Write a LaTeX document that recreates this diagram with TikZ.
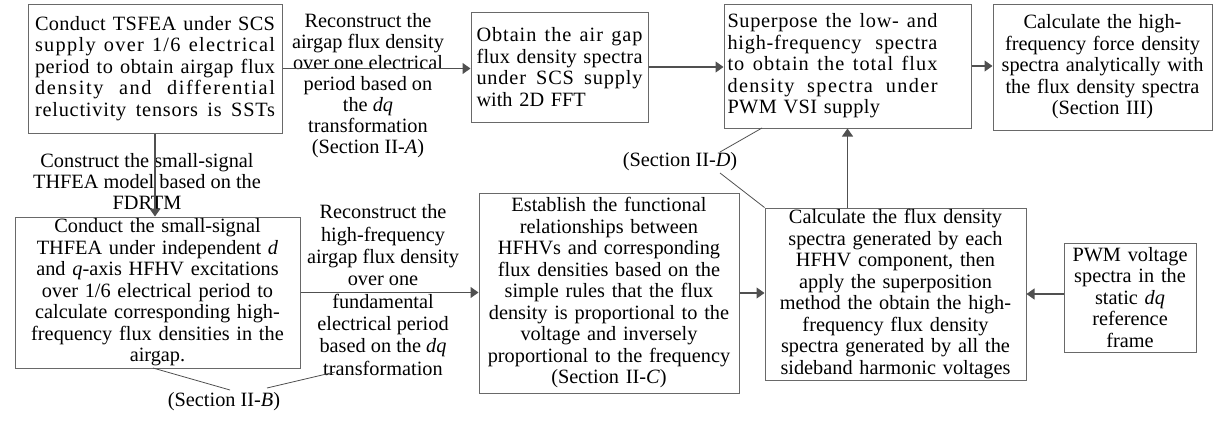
\documentclass[tikz,border=0pt]{standalone}
\usepackage{fontspec}
\setmainfont{Liberation Serif}
\usetikzlibrary{arrows.meta}
\definecolor{edge}{RGB}{105,105,105}
\definecolor{conn}{RGB}{80,80,80}
% justified line: optional width, letter spacing, text
\newcommand{\jl}[3][\hsize]{\leavevmode\hbox to #1{\addfontfeature{LetterSpace=#2}\spaceskip=0.25em plus 1fil\relax #3}}
\newcommand{\lline}[1]{\leavevmode\hbox to \hsize{#1\hfil}}
\begin{document}
\begin{tikzpicture}[x=1pt,y=-1pt,
  box/.style={draw=edge, line width=1pt, inner sep=0pt, align=center,
    font=\fontsize{20.3}{21.5}\selectfont},
  lab/.style={inner sep=0pt, align=center, font=\fontsize{20.3}{21}\selectfont},
  arr/.style={draw=conn, line width=1.1pt, -{Triangle[length=8pt,width=11pt]}},
  thin/.style={draw=conn, line width=0.8pt}]
\useasboundingbox (0,0) rectangle (1216,421);

\node[box, minimum width=254pt, minimum height=129pt, text width=240pt] (b1) at (155,68.5)
 {\jl{1.6}{Conduct TSFEA under SCS}\\\jl{6.5}{supply over 1/6 electrical}\\\jl{2.6}{period to obtain airgap flux}\\\jl{8.1}{density and differential}\\\jl{3.9}{reluctivity tensors is SSTs}};

\node[box, minimum width=177pt, minimum height=110pt, text width=166pt] (b2) at (559.5,67)
 {\jl{4.6}{Obtain the air gap}\\\jl{1.3}{flux density spectra}\\\jl{4.2}{under SCS supply}\\\lline{with 2D FFT}};

\node[box, align=left, minimum width=247pt, minimum height=124pt, text width=240pt] (b3) at (847.5,66)
 {\jl[210pt]{3.4}{Superpose the low- and}\\\jl[210pt]{3.8}{high-frequency spectra}\\\jl[210pt]{5.2}{to obtain the total flux}\\\jl[210pt]{6.8}{density spectra under}\\\lline{\addfontfeature{LetterSpace=2}PWM VSI supply}};

\node[box, minimum width=219pt, minimum height=126pt, text width=212pt] (b4) at (1102.5,67)
 {Calculate the high-\\frequency force density\\spectra analytically with\\the flux density spectra\\(Section III)};

\node[box, minimum width=285pt, minimum height=151pt, text width=280pt] (b5) at (157.5,292.5)
 {Conduct the small-signal\\THFEA under independent \textit{d}\\and \textit{q}-axis HFHV excitations\\over 1/6 electrical period to\\calculate corresponding high-\\frequency flux densities in the\\airgap.};

\node[box, minimum width=260pt, minimum height=200pt, text width=255pt] (b6) at (609,293)
 {Establish the functional\\relationships between\\HFHVs and corresponding\\flux densities based on the\\simple rules that the flux\\density is proportional to the\\voltage and inversely\\proportional to the frequency\\(Section II-\textit{C})};

\node[box, minimum width=261pt, minimum height=172pt, text width=256pt] (b7) at (895.5,294)
 {Calculate the flux density\\spectra generated by each\\HFHV component, then\\apply the superposition\\method the obtain the high-\\frequency flux density\\spectra generated by all the\\sideband harmonic voltages};

\node[box, minimum width=132pt, minimum height=109pt, text width=128pt] (b8) at (1130,297.5)
 {PWM voltage\\spectra in the\\static \textit{dq}\\reference\\frame};

% connector labels
\node[lab] (l12) at (368,86) {Reconstruct the\\airgap flux density\\over one electrical\\period based on\\the \textit{dq}\\transformation\\(Section II-\textit{A})};
\node[lab] (l15) at (147,181) {Construct the small-signal\\THFEA model based on the\\FDRTM};
\node[lab, font=\fontsize{20.3}{22.3}\selectfont] (l56) at (383,290) {Reconstruct the\\high-frequency\\airgap flux density\\over one\\fundamental\\electrical period\\based on the \textit{dq}\\transformation};
\node[lab] (secB) at (224,402) {(Section II-\textit{B})};
\node[lab] (secD) at (680,162) {(Section II-\textit{D})};

% arrows
\draw[arr] (b1.east) -- (b1.east -| b2.west);
\draw[arr] (b2.east) -- (b2.east -| b3.west);
\draw[arr] (b3.east) -- (b3.east -| b4.west);
\draw[arr] (b1.south) -- (b1.south |- b5.north);
\draw[arr] (b5.east) -- (b5.east -| b6.west);
\draw[arr] (b6.east) -- (b6.east -| b7.west);
\draw[arr] (b7.east -| b8.west) -- (b7.east);
\draw[arr] (b7.north -| b3.south) -- (b3.south);

% annotation leaders
\coordinate (b5s) at (153,368);
\coordinate (bA) at (230,390);
\coordinate (bB) at (267,388);
\coordinate (bC) at (335,372);
\draw[thin] (b5s) -- (bA);
\draw[thin] (bB) -- (bC);
\coordinate (dA) at (720,152);
\coordinate (dB) at (762,128);
\coordinate (dC) at (720,173);
\draw[thin] (dA) -- (dB);
\draw[thin] (dC) -- (b7.north west);
\end{tikzpicture}
\end{document}
